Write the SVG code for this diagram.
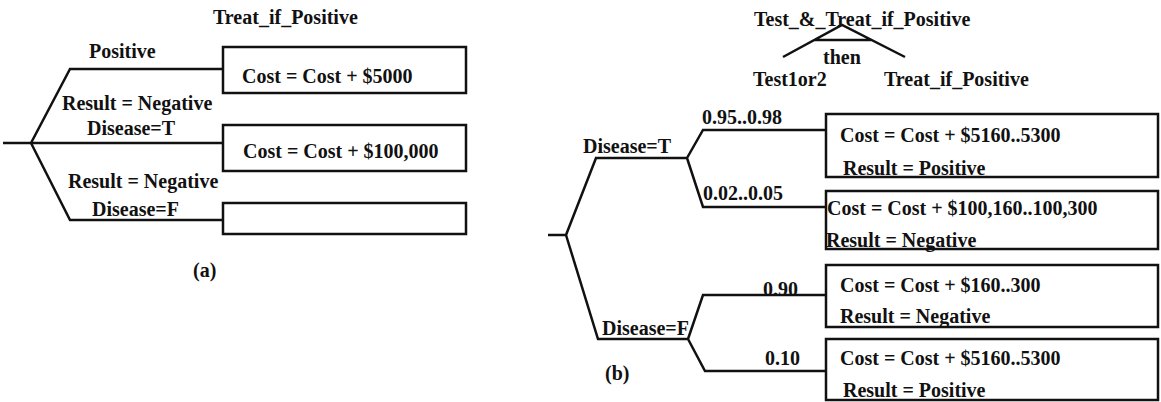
<svg xmlns="http://www.w3.org/2000/svg" width="1161" height="402" viewBox="0 0 1161 402">
<style>
text{font-family:"Liberation Serif","Times New Roman",serif;font-size:20px;font-weight:bold;fill:#111}
.ln{fill:none;stroke:#111;stroke-width:2.5;stroke-linejoin:miter}
.box{fill:#fff;stroke:#111;stroke-width:2.5}
</style>
<rect width="1161" height="402" fill="#fff"/>
<g id="connectors">
<path class="ln" d="M3,143 H31 M31,143 L70,69 H223 M31,143 H223 M31,143 L70,220 H223"/>
<path class="ln" d="M548,235 H566 M566,235 L596,158 H687 M687,158 L703,130 H826 M687,158 L703,207 H826"/>
<path class="ln" d="M566,235 L598,339 H688 M688,339 L703,295 H826 M688,339 L705,371 H826"/>
<path class="ln" d="M783,57 L842,25 L905,57 M814,40 L872,40"/>
</g>
<g id="title-a"><text x="213" y="24">Treat_if_Positive</text></g>
<g id="labels-a">
<text x="89" y="58">Positive</text>
<text x="62" y="110">Result = Negative</text>
<text x="87" y="135">Disease=T</text>
<text x="68" y="188">Result = Negative</text>
<text x="92" y="216">Disease=F</text>
<text x="193" y="277">(a)</text>
</g>
<g id="box-a1"><rect class="box" x="223" y="47" width="243" height="46"/><text x="242" y="83">Cost = Cost + $5000</text></g>
<g id="box-a2"><rect class="box" x="223" y="125" width="243" height="46"/><text x="243" y="158">Cost = Cost + $100,000</text></g>
<g id="box-a3"><rect class="box" x="223" y="203" width="243" height="31"/></g>
<g id="title-b">
<text x="754" y="26">Test_&amp;_Treat_if_Positive</text>
<text x="823" y="64">then</text>
<text x="753" y="86">Test1or2</text>
<text x="884" y="86">Treat_if_Positive</text>
</g>
<g id="labels-b">
<text x="583" y="153">Disease=T</text>
<text x="702" y="124">0.95..0.98</text>
<text x="703" y="200">0.02..0.05</text>
<text x="602" y="335">Disease=F</text>
<text x="763" y="296">0.90</text>
<text x="765" y="365">0.10</text>
<text x="605" y="380">(b)</text>
</g>
<g id="box-b1"><rect class="box" x="826" y="114" width="332" height="63"/><text x="840" y="142">Cost = Cost + $5160..5300</text><text x="843" y="175">Result = Positive</text></g>
<g id="box-b2"><rect class="box" x="826" y="191" width="332" height="58"/><text x="827" y="215">Cost = Cost + $100,160..100,300</text><text x="826" y="247">Result = Negative</text></g>
<g id="box-b3"><rect class="box" x="826" y="265" width="332" height="62"/><text x="840" y="292">Cost = Cost + $160..300</text><text x="840" y="323">Result = Negative</text></g>
<g id="box-b4"><rect class="box" x="826" y="339" width="332" height="61"/><text x="840" y="365">Cost = Cost + $5160..5300</text><text x="843" y="397">Result = Positive</text></g>
</svg>
